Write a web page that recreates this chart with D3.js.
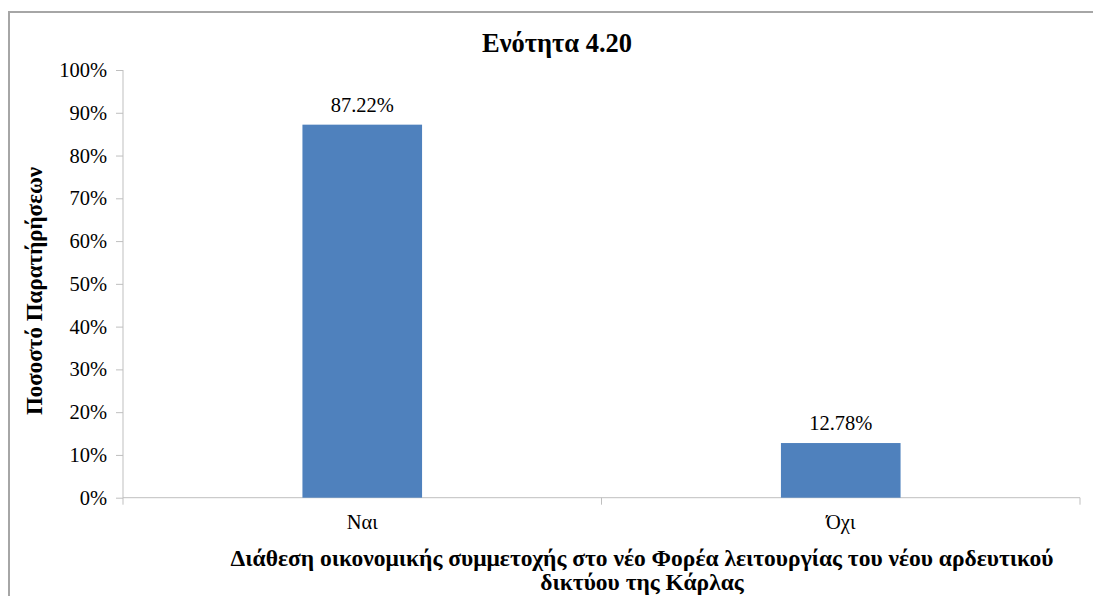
<!DOCTYPE html>
<html>
<head>
<meta charset="utf-8">
<script src="https://cdn.jsdelivr.net/npm/d3@7"></script>
<style>
  html, body { margin: 0; padding: 0; background: #fff; }
  svg { display: block; }
  svg text { font-family: "Liberation Serif", "Times New Roman", serif; }
</style>
</head>
<body>
<svg id="chart" width="1093" height="596"></svg>
<script>
// Survey answers: share of observations per response
const categories = ["Ναι", "Όχι"];
const values = [87.22, 12.78];
const valueLabels = ["87.22%", "12.78%"];
const yTicks = [0, 10, 20, 30, 40, 50, 60, 70, 80, 90, 100];

const chartTitle = "Ενότητα 4.20";
const yTitle = "Ποσοστό Παρατήρήσεων";
const xTitleLines = [
  "Διάθεση οικονομικής συμμετοχής στο νέο Φορέα λειτουργίας του νέου αρδευτικού",
  "δικτύου της Κάρλας"
];

const FONT = "'Liberation Serif', 'Times New Roman', serif";
const svg = d3.select("#chart");

// outer chart frame (left and top edges visible)
svg.append("rect")
  .attr("x", 9).attr("y", 12)
  .attr("width", 1100).attr("height", 620)
  .attr("fill", "#fff")
  .attr("stroke", "#a6a6a6")
  .attr("stroke-width", 2);

const plot = { left: 123, right: 1080, top: 70, bottom: 497.7 };

// bars take a quarter of each category slot, centred in it
const x = d3.scaleBand()
  .domain(categories)
  .range([plot.left, plot.right])
  .paddingInner(0.75)
  .paddingOuter(0.375);

// full category slots, for the tick marks between them
const xOuter = d3.scaleBand()
  .domain(categories)
  .range([plot.left, plot.right])
  .padding(0);

const y = d3.scaleLinear().domain([0, 100]).range([plot.bottom, plot.top]);

const axisColor = "#bfbfbf";

// y axis
const yAxis = svg.append("g")
  .attr("transform", `translate(${plot.left},0)`)
  .call(d3.axisLeft(y).tickValues(yTicks).tickSize(7).tickPadding(9).tickFormat(d => d + "%"));
yAxis.attr("font-family", null);
yAxis.select(".domain").attr("stroke", axisColor).attr("d", `M0,${plot.top}V${plot.bottom + 7}`);
yAxis.selectAll(".tick line").attr("stroke", axisColor);
yAxis.selectAll(".tick text")
  .style("font-family", FONT)
  .style("font-size", "20.5px")
  .attr("fill", "#000");

// x axis
const xAxis = svg.append("g")
  .attr("transform", `translate(0,${plot.bottom})`);
xAxis.append("line")
  .attr("x1", plot.left).attr("x2", plot.right)
  .attr("y1", 0).attr("y2", 0)
  .attr("stroke", axisColor);
const boundaries = categories.map(c => xOuter(c)).concat([plot.right]);
xAxis.selectAll(".xtick")
  .data(boundaries.slice(1))
  .join("line")
  .attr("x1", d => d).attr("x2", d => d)
  .attr("y1", 0).attr("y2", 7)
  .attr("stroke", axisColor);
xAxis.selectAll(".xlab")
  .data(categories)
  .join("text")
  .attr("x", d => x(d) + x.bandwidth() / 2)
  .attr("y", 31.5)
  .attr("text-anchor", "middle")
  .style("font-family", FONT)
  .style("font-size", "20.5px")
  .text(d => d);

// bars
svg.selectAll(".bar")
  .data(categories)
  .join("rect")
  .attr("x", d => x(d))
  .attr("width", x.bandwidth())
  .attr("y", (d, i) => y(values[i]))
  .attr("height", (d, i) => y(0) - y(values[i]))
  .attr("fill", "#4f81bd");

// value labels
svg.selectAll(".val")
  .data(categories)
  .join("text")
  .attr("x", d => x(d) + x.bandwidth() / 2)
  .attr("y", (d, i) => y(values[i]) - 13)
  .attr("text-anchor", "middle")
  .style("font-family", FONT)
  .style("font-size", "20.5px")
  .text((d, i) => valueLabels[i]);

// chart title
svg.append("text")
  .attr("x", 557).attr("y", 52)
  .attr("text-anchor", "middle")
  .style("font-family", FONT)
  .style("font-size", "26.5px")
  .style("font-weight", "bold")
  .text(chartTitle);

// y axis title
svg.append("text")
  .attr("transform", "translate(42,291) rotate(-90)")
  .attr("text-anchor", "middle")
  .style("font-family", FONT)
  .style("font-size", "23px")
  .style("font-weight", "bold")
  .text(yTitle);

// x axis title, two lines
svg.append("text")
  .attr("text-anchor", "middle")
  .style("font-family", FONT)
  .style("font-size", "23.5px")
  .style("font-weight", "bold")
  .selectAll("tspan")
  .data(xTitleLines)
  .join("tspan")
  .attr("x", 642)
  .attr("y", (d, i) => 566 + i * 24)
  .text(d => d);
</script>
</body>
</html>
